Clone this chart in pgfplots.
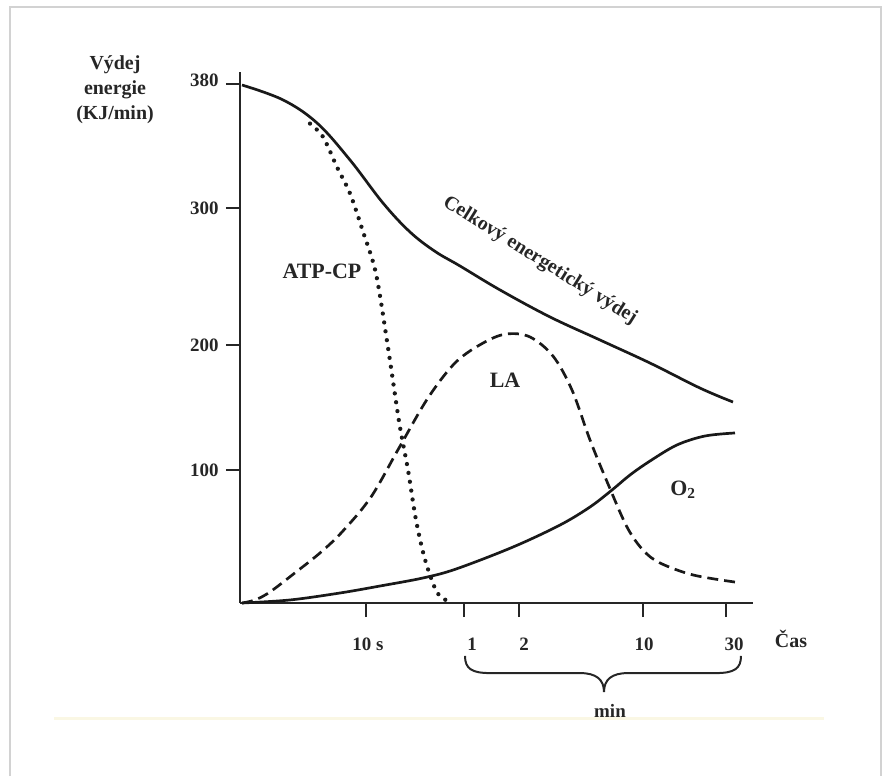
\documentclass[border=0pt]{standalone}
\usepackage{pgfplots}
\pgfplotsset{compat=1.18}
\usepackage{fontspec}
\setmainfont{Liberation Serif}
\begin{document}
\begin{tikzpicture}
\begin{axis}[
  x=1bp, y=1.317bp,
  xmin=0, xmax=513, ymin=0, ymax=403,
  axis lines=left,
  axis line style={-, line width=2pt, black!85},
  clip=false,
  xtick={126,224,279,403,486},
  xticklabels={{\hspace*{4bp}10 s},{\hspace*{16bp}1},{\hspace*{10bp}2},{\hspace*{2bp}10},{\hspace*{16bp}30}},
  ytick={101,196,300,394},
  yticklabels={100,200,300,\raisebox{7bp}{380}},
  tick align=outside,
  major tick length=14bp,
  tick style={line width=2pt, black!85},
  tick label style={font=\fontsize{19}{22}\selectfont\bfseries, text=black!85},
  /pgf/number format/assume math mode=true,
  xticklabel style={yshift=-17bp},
  yticklabel style={xshift=-4bp},
]
% bounding box and frame
\path (axis cs:-240,457.86) rectangle (axis cs:654,-131.36);
\draw[gray!35, line width=1.5pt] (axis cs:-230,-131.36) -- (axis cs:-230,452.5) -- (axis cs:641,452.5) -- (axis cs:641,-131.36);
\draw[color={rgb,255:red,250;green,247;blue,228}, line width=3pt] (axis cs:-186,-88) -- (axis cs:584,-88);

% Total energy expenditure
\addplot[black!90, line width=2.7pt, smooth, tension=0.6] coordinates {
 (2,393.3) (43,382) (77,364.5) (110,336.4) (143,303.7) (170,281.7) (195,267)
 (220,255.9) (260,237.7) (310,217.2) (360,199.7) (410,182.2) (460,163.2) (493,152.6)
};
% ATP-CP
\addplot[black!90, line width=4.3pt, line cap=round, dash pattern=on 0pt off 9pt, smooth, tension=0.5] coordinates {
 (70,364) (83,354) (97,331) (110,311) (123,282) (136,250) (148,194) (159,138)
 (168,101) (176,63) (185,33) (197,8) (208,1.5)
};
% LA
\addplot[black!90, line width=2.7pt, dash pattern=on 11pt off 6pt, smooth, tension=0.55] coordinates {
 (2,0) (15,2.3) (30,8.4) (56,23.5) (80,38) (102,53.9) (131,80.5) (159,117.7)
 (188,155.7) (216,183) (245,198.2) (267,204.3) (290,202) (313,187.5) (332,161.7)
 (350,123.8) (368,90.4) (387,57.7) (403,40.2) (420,30.4) (453,21.3) (495,15.9)
};
% O2
\addplot[black!90, line width=2.7pt, smooth, tension=0.55] coordinates {
 (2,0) (50,2.3) (100,7.6) (140,12.9) (183,19) (216,25.8) (273,42.5) (320,59.2)
 (350,72.9) (372,85.8) (390,97.2) (410,107.8) (437,120) (465,126.8) (495,129.1)
};

% labels
\node[align=center, font=\fontsize{20}{25}\selectfont\bfseries, text=black!85] at (axis cs:-125,390) {Výdej\\energie\\(KJ/min)};
\node[font=\fontsize{22}{26}\selectfont\bfseries, text=black!85] at (axis cs:82,252) {ATP-CP};
\node[font=\fontsize{22}{26}\selectfont\bfseries, text=black!85] at (axis cs:265,169) {LA};
\node[font=\fontsize{22}{26}\selectfont\bfseries, text=black!85] at (axis cs:443,86) {O\textsubscript{2}};
\node[rotate=-32, font=\fontsize{20}{24}\selectfont\bfseries, text=black!85] at (axis cs:300,260) {Celkový energetický výdej};
\node[font=\fontsize{20}{24}\selectfont\bfseries, text=black!85] at (axis cs:551,-27) {Čas};
\node[font=\fontsize{19}{22}\selectfont\bfseries, text=black!85] at (axis cs:370,-82) {min};
% brace
\draw[black!85, line width=2pt]
  (axis cs:225,-40.2) .. controls (axis cs:225,-50) and (axis cs:232,-53.2) .. (axis cs:250,-53.2)
  -- (axis cs:340,-53.2) .. controls (axis cs:356,-53.2) and (axis cs:364,-58) .. (axis cs:364,-67.6)
  .. controls (axis cs:364,-58) and (axis cs:372,-53.2) .. (axis cs:388,-53.2)
  -- (axis cs:476,-53.2) .. controls (axis cs:494,-53.2) and (axis cs:501,-50) .. (axis cs:501,-40.2);
\end{axis}
\end{tikzpicture}
\end{document}
